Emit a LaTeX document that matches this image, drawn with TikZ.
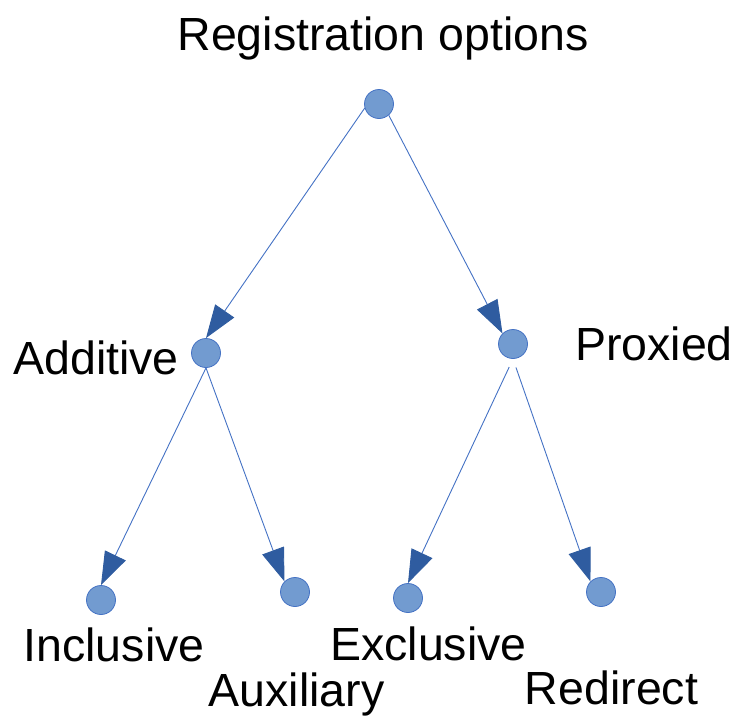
\documentclass[tikz,border=0pt]{standalone}
\usepackage{fontspec}
\setmainfont{Liberation Sans}
\usepackage{tikz}
\usetikzlibrary{arrows.meta,positioning}
\definecolor{dotfill}{RGB}{114,155,208}
\definecolor{dotline}{RGB}{68,114,196}
\definecolor{tipblue}{RGB}{47,92,160}
\tikzset{
    dot/.style={ % option point
		circle,
		fill=dotfill,
		draw=dotline,
		line width=0.8pt,
		minimum size=29pt,
		inner sep=0pt
		},
    lbl/.style={ % option name, set on its base line
		anchor=base,
		inner sep=0pt,
		font=\fontsize{46.5}{56}\selectfont
		},
    arrout/.style={
		draw=dotline,
		line width=0.9pt,
		-{Triangle[length=33pt,width=23pt,color=tipblue]}
		}
}

\begin{document}
\begin{tikzpicture}[x=1pt,y=-1pt]
		\useasboundingbox (0,0) rectangle (737,718);
		
		%%%%% node root
		\node[dot] (root) at (379,104) {};
		\node[lbl] (troot) at (383,50) {Registration options};
		
		%%%%% node add
		\node[dot] (add) at (206,353) {};
		\node[lbl] (tadd) at (96,374) {Additive};
		
		%%%%% node prox
		\node[dot] (prox) at (513,344) {};
		\node[lbl] (tprox) at (654,360) {Proxied};
		
		%%%%% edges e1, e2
		\draw[arrout] (root.196) -- (add.north);
		\draw[arrout] (root.-49) -- (prox.north west);
		
		%%%%% node incl
		\node[dot] (incl) at (101,600) {};
		\node[lbl] (tincl) at (114,661) {Inclusive};
		
		%%%%% node aux
		\node[dot] (aux) at (295,592) {};
		\node[lbl] (taux) at (296.5,706) {Auxiliary};
		
		%%%%% edges e3, e4
		\draw[arrout] (add.south) -- (incl.north);
		\draw[arrout] (add.south) -- (aux.north west);
		
		%%%%% node excl
		\node[dot] (excl) at (408,598) {};
		\node[lbl] (texcl) at (428.5,660) {Exclusive};
		
		%%%%% node redir
		\node[dot] (redir) at (601,592) {};
		\node[lbl] (tredir) at (611.5,704) {Redirect};
		
		%%%%% edges e5, e6
		\draw[arrout,shorten <=9pt] (prox.south) -- (excl.north);
		\draw[arrout,shorten <=9pt] (prox.south) -- (redir.north west);
\end{tikzpicture}
\end{document}
